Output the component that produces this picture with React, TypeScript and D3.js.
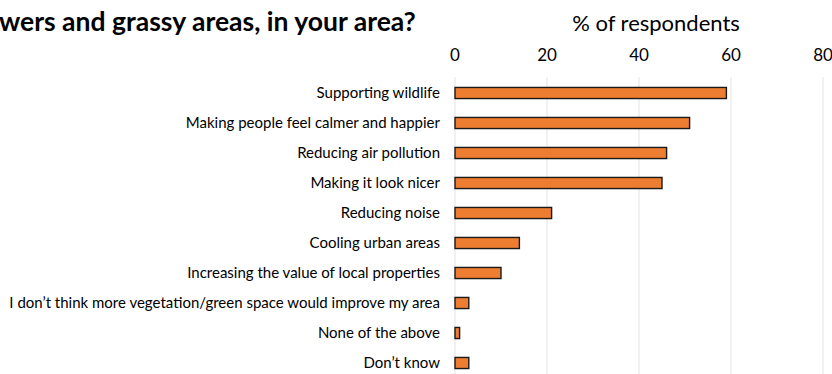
import React from "react";
import * as d3 from "d3";

const categories = [
  "Supporting wildlife",
  "Making people feel calmer and happier",
  "Reducing air pollution",
  "Making it look nicer",
  "Reducing noise",
  "Cooling urban areas",
  "Increasing the value of local properties",
  "I don\u2019t think more vegetation/green space would improve my area",
  "None of the above",
  "Don\u2019t know",
];
const values = [59, 51, 46, 45, 21, 14, 10, 3, 1, 3];
const ticks = [0, 20, 40, 60, 80];
const titleText = "wers and grassy areas, in your area?";
const axisTitle = "% of respondents";

const W = 832;
const H = 374;

export default function App() {
  const x = d3.scaleLinear().domain([0, 80]).range([455, 823]);
  const y = d3
    .scaleBand<string>()
    .domain(categories)
    .range([78, 378])
    .paddingInner(0.63)
    .paddingOuter(0.315);
  const bh = y.bandwidth();
  const font = "Lato, 'Open Sans', sans-serif";
  return (
    <svg
      width={W}
      height={H}
      style={{ position: "absolute", left: 0, top: 0, background: "#fff" }}
      fontFamily={font}
    >
      <text x={-1} y={31} fontSize={26.5} fontWeight={700} fill="#000">
        {titleText}
      </text>
      <text x={656} y={31} fontSize={22} textAnchor="middle" fill="#000">
        {axisTitle}
      </text>
      {ticks.map((t) => (
        <g key={t}>
          <line x1={x(t)} x2={x(t)} y1={77} y2={H} stroke="#e3e3e3" strokeWidth={1} />
          <text x={x(t)} y={61} fontSize={17} textAnchor="middle" fill="#000">
            {t}
          </text>
        </g>
      ))}
      {categories.map((c, i) => (
        <g key={c}>
          <rect
            x={x(0)}
            y={y(c)!}
            width={x(values[i]) - x(0)}
            height={bh}
            fill="#ED7D31"
            stroke="#1a1a1a"
            strokeWidth={1.4}
          />
          <text
            x={440}
            y={y(c)! + bh / 2}
            dy="0.35em"
            fontSize={15}
            textAnchor="end"
            fill="#000"
          >
            {c}
          </text>
        </g>
      ))}
    </svg>
  );
}
